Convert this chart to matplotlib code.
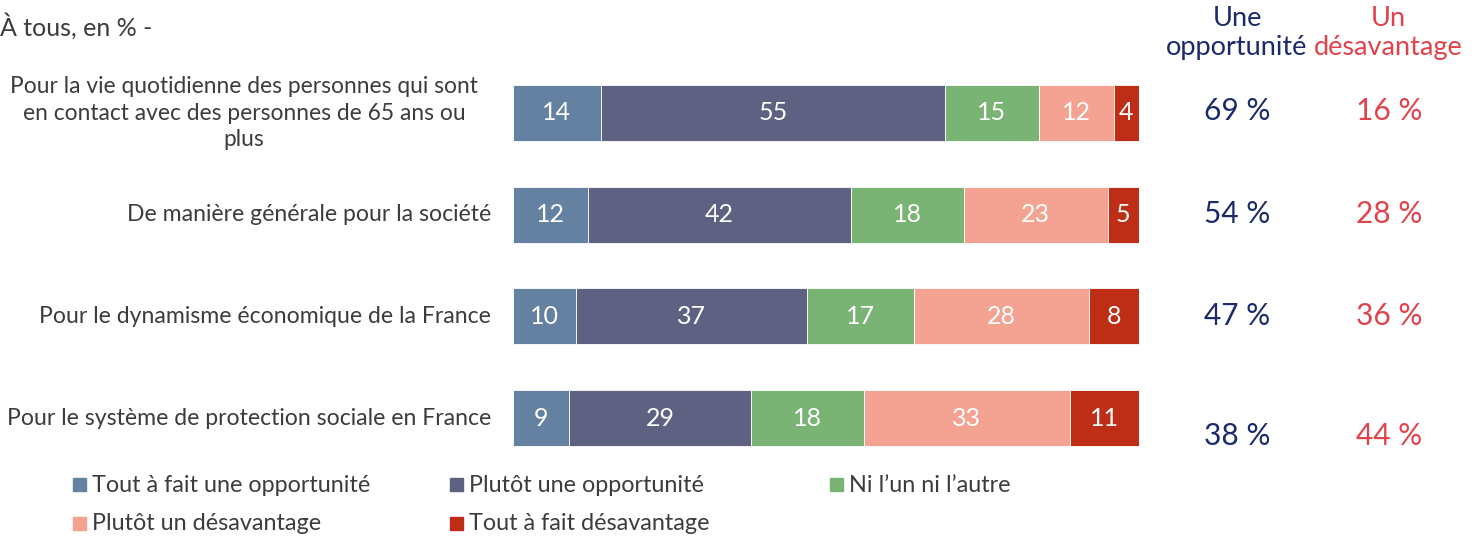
import matplotlib
matplotlib.use("Agg")
import matplotlib.pyplot as plt
from matplotlib.patches import Rectangle

plt.rcParams['font.family'] = ['Lato', 'DejaVu Sans']

categories = [
    "Pour la vie quotidienne des personnes qui sont\nen contact avec des personnes de 65 ans ou\nplus",
    "De manière générale pour la société",
    "Pour le dynamisme économique de la France",
    "Pour le système de protection sociale en France",
]
series_names = [
    "Tout à fait une opportunité",
    "Plutôt une opportunité",
    "Ni l’un ni l’autre",
    "Plutôt un désavantage",
    "Tout à fait désavantage",
]
tout_opp = [14, 12, 10, 9]
plutot_opp = [55, 42, 37, 29]
ni_ni = [15, 18, 17, 18]
plutot_des = [12, 23, 28, 33]
tout_des = [4, 5, 8, 11]
total_opp = [69, 54, 47, 38]
total_des = [16, 28, 36, 44]

colors = ["#6581A1", "#5E6182", "#7AB474", "#F4A291", "#BE2E17"]
text_col = "#3C3C3C"
navy = "#1B2A6B"
red = "#E1424B"

W, H = 1481, 541
fig = plt.figure(figsize=(W / 100, H / 100), dpi=100)
ax = fig.add_axes([513 / W, 0, 626 / W, 1])

series = [tout_opp, plutot_opp, ni_ni, plutot_des, tout_des]
ypos = list(range(len(categories)))
left = [0] * len(categories)
for name, vals, c in zip(series_names, series, colors):
    bars = ax.barh(ypos, vals, left=left, height=0.55, color=c,
                   edgecolor="white", linewidth=0.6, label=name)
    ax.bar_label(bars, labels=[str(v) for v in vals], label_type="center",
                 color="white", fontsize=18)
    left = [l + v for l, v in zip(left, vals)]

ax.set_xlim(0, 100)
ax.set_ylim((H - 113) / 101.7, -113 / 101.7)
ax.axis("off")

# category labels
for i, cat in enumerate(categories):
    if "\n" in cat:
        ax.text(-5.6, i, cat, ha="right", va="center", multialignment="center",
                fontsize=16.4, color=text_col, linespacing=1.33)
    else:
        ax.text(-3.5, i, cat, ha="right", va="center", fontsize=16.6,
                color=text_col)

# totals columns
fig.text(1237 / W, 1 - 33 / H, "Une\nopportunité", ha="center", va="center",
         fontsize=19.5, color=navy, linespacing=1.17)
fig.text(1388 / W, 1 - 33 / H, "Un\ndésavantage", ha="center", va="center",
         fontsize=19.5, color=red, linespacing=1.17)
ty = [111, 214, 316, 436]
for i in range(len(categories)):
    ax.text(115.7, (ty[i] - 113) / 101.7, f"{total_opp[i]} %", ha="center",
            va="center", fontsize=21.5, color=navy)
    ax.text(139.9, (ty[i] - 113) / 101.7, f"{total_des[i]} %", ha="center",
            va="center", fontsize=21.5, color=red)

fig.text(0, 1 - 26 / H, "À tous, en % -", ha="left", va="center",
         fontsize=18, color=text_col)

# legend
leg_pos = [(73, 485), (450, 485), (830, 485), (73, 524), (450, 524)]
for (x, y), name, c in zip(leg_pos, series_names, colors):
    fig.patches.append(Rectangle(((x) / W, 1 - (y + 6) / H), 13 / W, 13 / H,
                                 transform=fig.transFigure, color=c))
    fig.text((x + 19) / W, 1 - y / H, name, ha="left", va="center",
             fontsize=16.8, color=text_col)

fig.savefig("out.png", dpi=100)
